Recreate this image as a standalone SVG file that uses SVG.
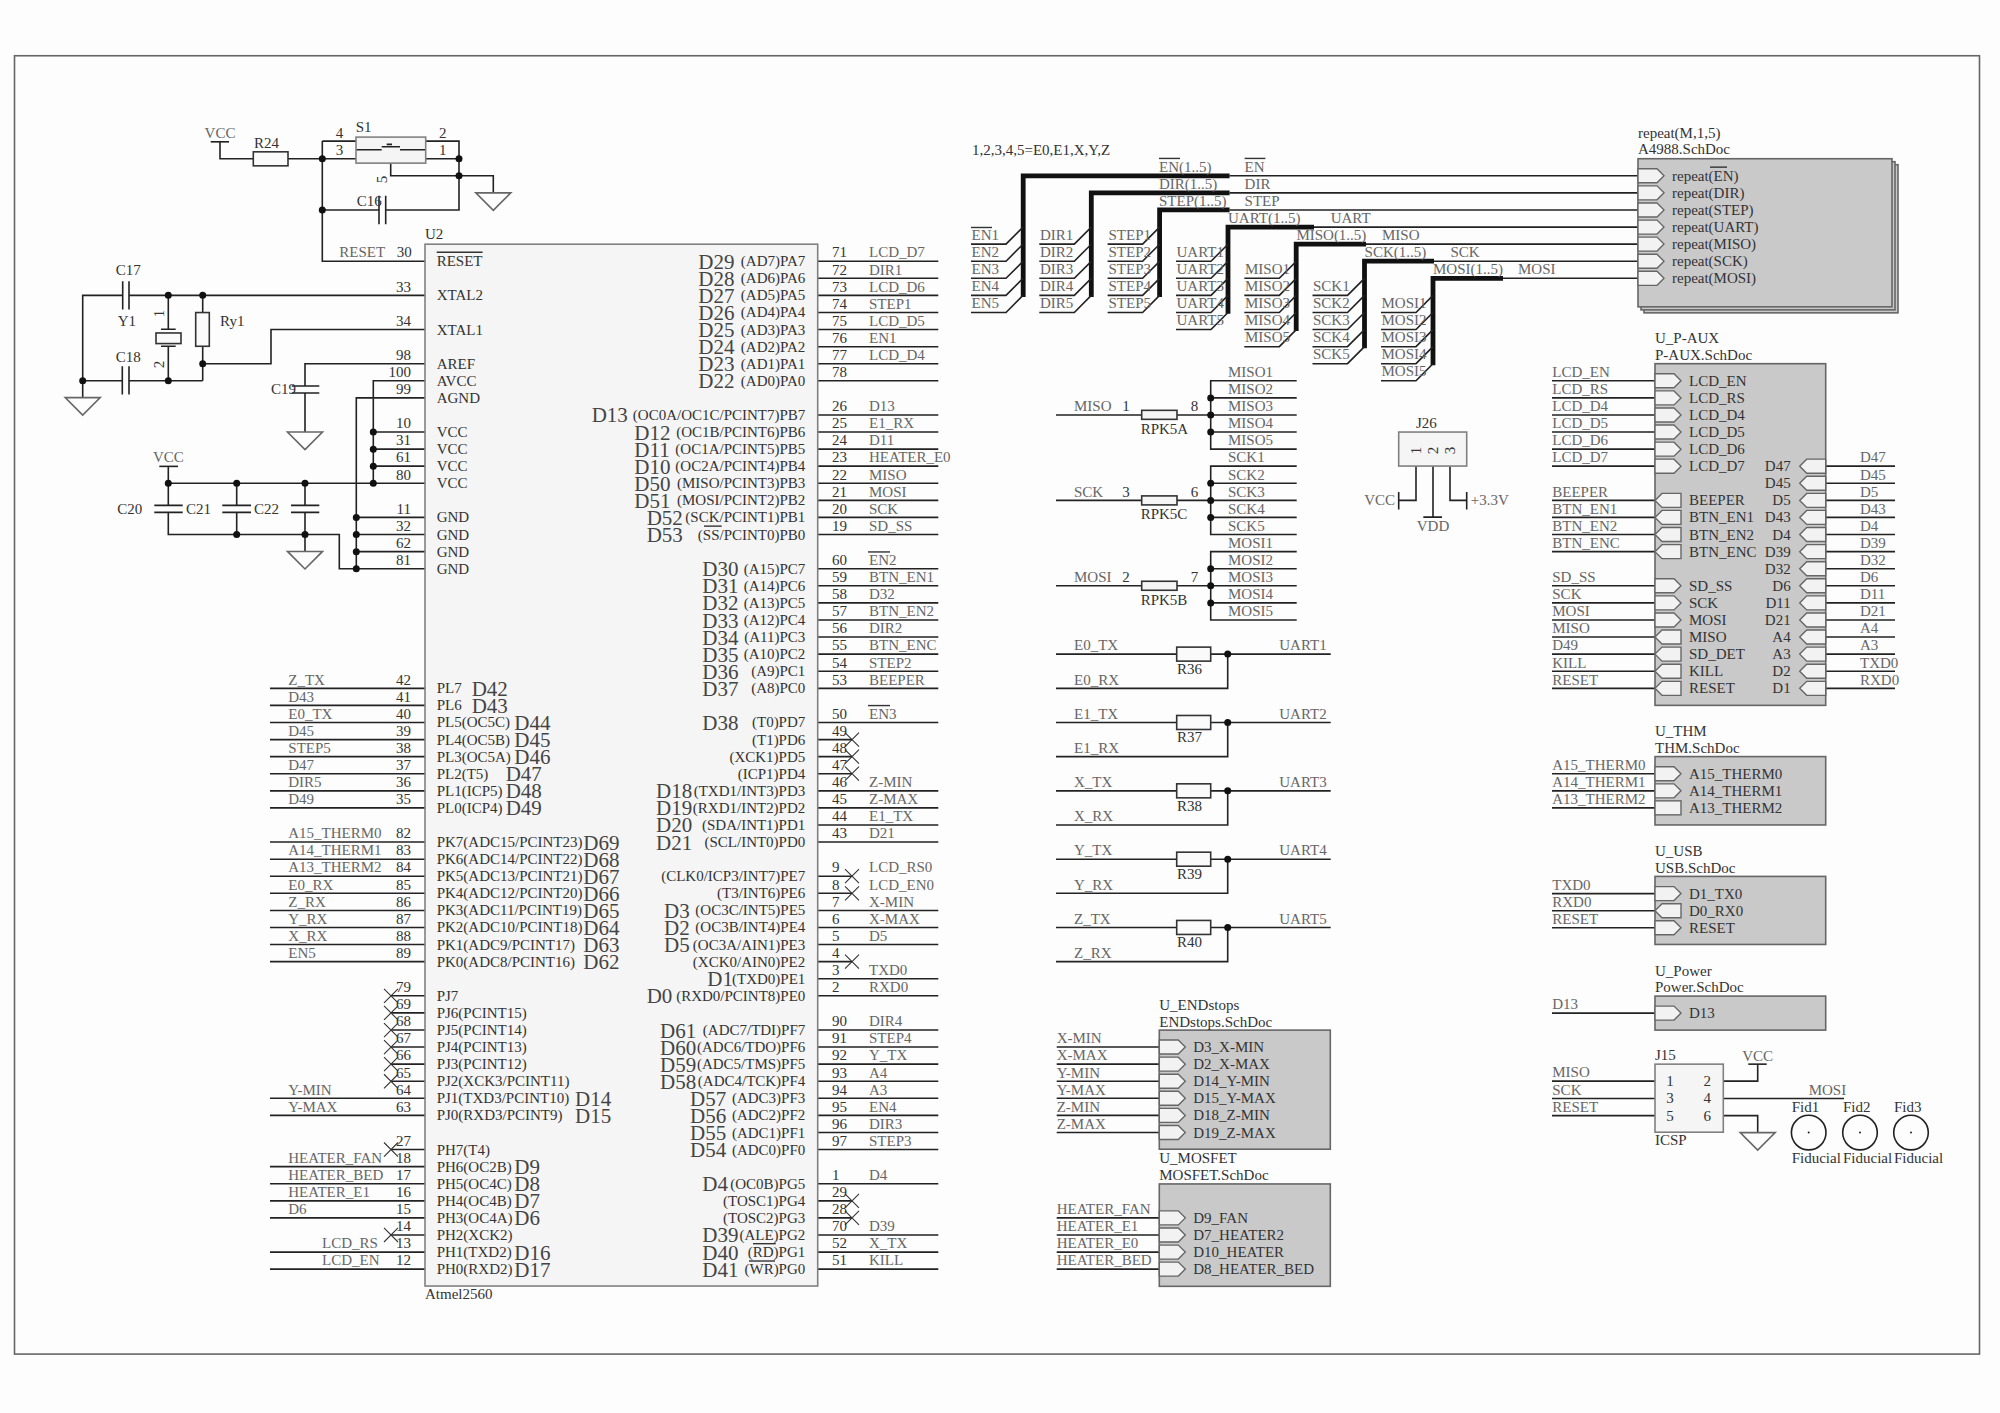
<svg xmlns="http://www.w3.org/2000/svg" width="2000" height="1413" viewBox="0 0 2000 1413">
<style>
text{font-family:"Liberation Serif","Times New Roman",serif;font-size:15px;fill:#333}
.n{fill:#666}
.D{font-size:21px;fill:#444}
.e{text-anchor:end}
.m{text-anchor:middle}
.w,.xx,.ov,.g{fill:none;stroke:#222;stroke-width:1.6}
.xx{stroke:#333;stroke-width:1.1}
.ov{stroke:#333;stroke-width:1.4}
.g{stroke:#666}
.b{fill:none;stroke:#111;stroke-width:4.8}
.j{fill:#111;r:3.5px}
.chip{fill:#f5f5f5;stroke:#808080;stroke-width:1.6}
.res{fill:#fafafa;stroke:#333;stroke-width:1.6}
.sh{fill:#c9c9c9;stroke:#666;stroke-width:1.6}
.port{fill:#f2f2f2;stroke:#666;stroke-width:1.4}
</style>
<defs>
<path id="pr" class="port" d="M0-7H19L26 0 19 7H0Z"/>
<path id="pl" class="port" d="M26-7H7L0 0 7 7H26Z"/>
<path id="gnd" class="g" d="M-17.5 0H17.5L0 17.5Z"/>
<path id="x" class="xx" d="M-7-7L7 7M7-7L-7 7"/>
<path id="ent" class="w" d="M0 0H35L52 -17"/>
</defs>
<rect width="2000" height="1413" fill="#fdfdfd"/>
<g id="sheet" transform="scale(1 1.0008)">
<rect x="14.5" y="55.7" width="1965" height="1297.3" fill="none" stroke="#666" stroke-width="1.6"/>
<text x="972" y="155">1,2,3,4,5=E0,E1,X,Y,Z</text>

<g id="connectors">
<path class="w" d="M220 141.7V158.6H253.3M288 158.6H356M322.3 141V261H425M322.3 141H356M425.7 141H459V209.8H385.7M322.3 209.8H379M425.7 158.6H459M390.7 163V175.6H493.3V192.7"/>
<path class="w" d="M82.7 397V295.1H122.7M129 295.1H425M168.3 295.1V329M168.3 346V380.5M202.7 295.1V380.5M82.7 380.5H122.3M129 380.5H202.7M202.7 363.4H271V329.3H425"/>
<path class="w" d="M425 363.4H305V385.7M305 392.7V431.7M425 380.5H373.3V482.9M425 397.6H356.3V568.3M373.3 431.7H425M373.3 448.8H425M373.3 465.8H425M168.3 466V505M168.3 482.9H425M236.7 482.9V505M305 482.9V505M168.3 512V534.1H339.3V568.3H425M236.7 512V534.1M305 512V551M356.3 517H425M356.3 534.1H425M356.3 551.2H425"/>
<path class="w" d="M270 687.8H425M270 704.8H425M270 721.9H425M270 739H425M270 756H425M270 773.1H425M270 790.2H425M270 807.2H425M270 841.4H425M270 858.5H425M270 875.5H425M270 892.6H425M270 909.7H425M270 926.7H425M270 943.8H425M270 960.9H425M391 995H425M391 1012.1H425M391 1029.2H425M391 1046.2H425M391 1063.3H425M391 1080.4H425M270 1097.4H425M270 1114.5H425M391 1148.6H425M270 1165.7H425M270 1182.8H425M270 1199.9H425M270 1216.9H425M391 1234H425M270 1251.1H425M270 1268.1H425"/>
<path class="w" d="M817.7 261H938.3M817.7 278.1H938.3M817.7 295.1H938.3M817.7 312.2H938.3M817.7 329.3H938.3M817.7 346.4H938.3M817.7 363.4H938.3M817.7 380.5H938.3M817.7 414.6H938.3M817.7 431.7H938.3M817.7 448.8H938.3M817.7 465.8H938.3M817.7 482.9H938.3M817.7 500H938.3M817.7 517H938.3M817.7 534.1H938.3M817.7 568.3H938.3M817.7 585.3H938.3M817.7 602.4H938.3M817.7 619.5H938.3M817.7 636.5H938.3M817.7 653.6H938.3M817.7 670.7H938.3M817.7 687.8H938.3M817.7 721.9H938.3M817.7 739H852M817.7 756H852M817.7 773.1H852M817.7 790.2H938.3M817.7 807.2H938.3M817.7 824.3H938.3M817.7 841.4H938.3M817.7 875.5H852M817.7 892.6H852M817.7 909.7H938.3M817.7 926.7H938.3M817.7 943.8H938.3M817.7 960.9H852M817.7 977.9H938.3M817.7 995H938.3M817.7 1029.2H938.3M817.7 1046.2H938.3M817.7 1063.3H938.3M817.7 1080.4H938.3M817.7 1097.4H938.3M817.7 1114.5H938.3M817.7 1131.6H938.3M817.7 1148.6H938.3M817.7 1182.8H938.3M817.7 1199.9H852M817.7 1216.9H852M817.7 1234H938.3M817.7 1251.1H938.3M817.7 1268.1H938.3"/>
<g>
<use href="#x" x="391" y="995"/><use href="#x" x="391" y="1012.1"/><use href="#x" x="391" y="1029.2"/><use href="#x" x="391" y="1046.2"/><use href="#x" x="391" y="1063.3"/><use href="#x" x="391" y="1080.4"/><use href="#x" x="391" y="1148.6"/><use href="#x" x="391" y="1234"/>
<use href="#x" x="852" y="739"/><use href="#x" x="852" y="756"/><use href="#x" x="852" y="773.1"/><use href="#x" x="852" y="875.5"/><use href="#x" x="852" y="892.6"/><use href="#x" x="852" y="960.9"/><use href="#x" x="852" y="1199.9"/><use href="#x" x="852" y="1216.9"/>
</g>
<path class="b" d="M1023.2 296.7V175.65H1229.6M1091.3 296.7V192.7H1229.6M1159.6 296.7V209.8H1229.6M1228 313.5V226.9H1314M1296.2 330.7V243.9H1366M1364.5 348V261H1434M1433 365V278.1H1503"/>
<path class="w" d="M1229.6 175.65H1638M1229.6 192.7H1638M1229.6 209.8H1638M1314 226.9H1638M1366 243.9H1638M1434 261H1638M1503 278.1H1638"/>
<g transform="translate(971 0)"><use href="#ent" y="243.9"/><use href="#ent" y="261"/><use href="#ent" y="278.1"/><use href="#ent" y="295.1"/><use href="#ent" y="312.2"/></g>
<g transform="translate(1039.3 0)"><use href="#ent" y="243.9"/><use href="#ent" y="261"/><use href="#ent" y="278.1"/><use href="#ent" y="295.1"/><use href="#ent" y="312.2"/></g>
<g transform="translate(1107.6 0)"><use href="#ent" y="243.9"/><use href="#ent" y="261"/><use href="#ent" y="278.1"/><use href="#ent" y="295.1"/><use href="#ent" y="312.2"/></g>
<g transform="translate(1176 0)"><use href="#ent" y="261"/><use href="#ent" y="278.1"/><use href="#ent" y="295.1"/><use href="#ent" y="312.2"/><use href="#ent" y="329.3"/></g>
<g transform="translate(1244.3 0)"><use href="#ent" y="278.1"/><use href="#ent" y="295.1"/><use href="#ent" y="312.2"/><use href="#ent" y="329.3"/><use href="#ent" y="346.4"/></g>
<g transform="translate(1312.5 0)"><use href="#ent" y="295.1"/><use href="#ent" y="312.2"/><use href="#ent" y="329.3"/><use href="#ent" y="346.4"/><use href="#ent" y="363.4"/></g>
<g transform="translate(1381 0)"><use href="#ent" y="312.2"/><use href="#ent" y="329.3"/><use href="#ent" y="346.4"/><use href="#ent" y="363.4"/><use href="#ent" y="380.5"/></g>
<path class="w" d="M1296.7 380.5H1210.7V448.8H1296.7M1210.7 397.6H1296.7M1210.7 414.6H1296.7M1210.7 431.7H1296.7M1056 414.6H1141.7M1177 414.6H1210.7"/>
<path class="w" d="M1296.7 465.8H1210.7V534.1H1296.7M1210.7 482.9H1296.7M1210.7 500H1296.7M1210.7 517H1296.7M1056 500H1141.7M1177 500H1210.7"/>
<path class="w" d="M1296.7 551.2H1210.7V619.5H1296.7M1210.7 568.3H1296.7M1210.7 585.3H1296.7M1210.7 602.4H1296.7M1056 585.3H1141.7M1177 585.3H1210.7"/>
<path class="w" d="M1056 653.6H1176.7M1210.7 653.6H1330.7M1227.7 653.6V687.8H1056M1056 721.9H1176.7M1210.7 721.9H1330.7M1227.7 721.9V756H1056M1056 790.2H1176.7M1210.7 790.2H1330.7M1227.7 790.2V824.3H1056M1056 858.5H1176.7M1210.7 858.5H1330.7M1227.7 858.5V892.6H1056M1056 926.7H1176.7M1210.7 926.7H1330.7M1227.7 926.7V960.9H1056"/>
<path class="w" d="M1416 465.7V500H1398.7M1433 465.7V516.7M1450 465.7V500H1466.7"/>
<path class="w" d="M1056.7 1046.2H1159.3M1056.7 1063.3H1159.3M1056.7 1080.4H1159.3M1056.7 1097.4H1159.3M1056.7 1114.5H1159.3M1056.7 1131.6H1159.3M1056.7 1216.9H1159.3M1056.7 1234H1159.3M1056.7 1251.1H1159.3M1056.7 1268.1H1159.3"/>
<path class="w" d="M1552 380.5H1655M1552 397.6H1655M1552 414.6H1655M1552 431.7H1655M1552 448.8H1655M1552 465.8H1655M1552 500H1655M1552 517H1655M1552 534.1H1655M1552 551.2H1655M1552 585.3H1655M1552 602.4H1655M1552 619.5H1655M1552 636.5H1655M1552 653.6H1655M1552 670.7H1655M1552 687.8H1655"/>
<path class="w" d="M1825.7 465.8H1895M1825.7 482.9H1895M1825.7 500H1895M1825.7 517H1895M1825.7 534.1H1895M1825.7 551.2H1895M1825.7 568.3H1895M1825.7 585.3H1895M1825.7 602.4H1895M1825.7 619.5H1895M1825.7 636.5H1895M1825.7 653.6H1895M1825.7 670.7H1895M1825.7 687.8H1895"/>
<path class="w" d="M1552 773.1H1655M1552 790.2H1655M1552 807.2H1655M1552 892.9H1655M1552 910H1655M1552 927H1655M1552 1012.3H1655M1552 1080.3H1655M1552 1097.6H1655M1552 1114.7H1655M1723.3 1080.3H1757.7V1063.3M1723.3 1097.6H1844M1723.3 1114.7H1757.7V1131.7"/>
<g>
<circle class="j" cx="322.3" cy="158.6"/><circle class="j" cx="459" cy="158.6"/><circle class="j" cx="459" cy="175.6"/><circle class="j" cx="322.3" cy="209.8"/>
<circle class="j" cx="168.3" cy="295.1"/><circle class="j" cx="202.7" cy="295.1"/><circle class="j" cx="202.7" cy="363.4"/><circle class="j" cx="82.7" cy="380.5"/><circle class="j" cx="168.3" cy="380.5"/>
<circle class="j" cx="373.3" cy="431.7"/><circle class="j" cx="373.3" cy="448.8"/><circle class="j" cx="373.3" cy="465.8"/><circle class="j" cx="373.3" cy="482.9"/><circle class="j" cx="168.3" cy="482.9"/><circle class="j" cx="236.7" cy="482.9"/><circle class="j" cx="305" cy="482.9"/><circle class="j" cx="236.7" cy="534.1"/><circle class="j" cx="305" cy="534.1"/><circle class="j" cx="356.3" cy="517"/><circle class="j" cx="356.3" cy="534.1"/><circle class="j" cx="356.3" cy="551.2"/><circle class="j" cx="356.3" cy="568.3"/>
<circle class="j" cx="1210.7" cy="397.6"/><circle class="j" cx="1210.7" cy="414.6"/><circle class="j" cx="1210.7" cy="431.7"/><circle class="j" cx="1210.7" cy="482.9"/><circle class="j" cx="1210.7" cy="500"/><circle class="j" cx="1210.7" cy="517"/><circle class="j" cx="1210.7" cy="568.3"/><circle class="j" cx="1210.7" cy="585.3"/><circle class="j" cx="1210.7" cy="602.4"/>
<circle class="j" cx="1227.7" cy="653.6"/><circle class="j" cx="1227.7" cy="721.9"/><circle class="j" cx="1227.7" cy="790.2"/><circle class="j" cx="1227.7" cy="858.5"/><circle class="j" cx="1227.7" cy="926.7"/>
</g>
</g>

<g id="net-labels">
<text class="n" x="339.3" y="256.7">RESET</text>
<text class="n" x="288.3" y="684.1">Z_TX</text><text class="n" x="288.3" y="701.1">D43</text><text class="n" x="288.3" y="718.2">E0_TX</text><text class="n" x="288.3" y="735.3">D45</text><text class="n" x="288.3" y="752.3">STEP5</text><text class="n" x="288.3" y="769.4">D47</text><text class="n" x="288.3" y="786.5">DIR5</text><text class="n" x="288.3" y="803.5">D49</text>
<text class="n" x="288.3" y="837.7">A15_THERM0</text><text class="n" x="288.3" y="854.8">A14_THERM1</text><text class="n" x="288.3" y="871.8">A13_THERM2</text><text class="n" x="288.3" y="888.9">E0_RX</text><text class="n" x="288.3" y="906">Z_RX</text><text class="n" x="288.3" y="923">Y_RX</text><text class="n" x="288.3" y="940.1">X_RX</text><text class="n" x="288.3" y="957.2">EN5</text>
<text class="n" x="288.3" y="1093.7">Y-MIN</text><text class="n" x="288.3" y="1110.8">Y-MAX</text>
<text class="n" x="288.3" y="1162">HEATER_FAN</text><text class="n" x="288.3" y="1179.1">HEATER_BED</text><text class="n" x="288.3" y="1196.2">HEATER_E1</text><text class="n" x="288.3" y="1213.2">D6</text><text class="n" x="322" y="1247.4">LCD_RS</text><text class="n" x="322" y="1264.4">LCD_EN</text>
<text class="n" x="869" y="257.3">LCD_D7</text><text class="n" x="869" y="274.4">DIR1</text><text class="n" x="869" y="291.4">LCD_D6</text><text class="n" x="869" y="308.5">STEP1</text><text class="n" x="869" y="325.6">LCD_D5</text><text class="n" x="869" y="342.7">EN1</text><text class="n" x="869" y="359.7">LCD_D4</text>
<text class="n" x="869" y="410.9">D13</text><text class="n" x="869" y="428">E1_RX</text><text class="n" x="869" y="445.1">D11</text><text class="n" x="869" y="462.1">HEATER_E0</text><text class="n" x="869" y="479.2">MISO</text><text class="n" x="869" y="496.3">MOSI</text><text class="n" x="869" y="513.3">SCK</text><text class="n" x="869" y="530.4">SD_SS</text>
<text class="n" x="869" y="564.6">EN2</text><path class="ov" d="M868 551.5H890"/><text class="n" x="869" y="581.6">BTN_EN1</text><text class="n" x="869" y="598.7">D32</text><text class="n" x="869" y="615.8">BTN_EN2</text><text class="n" x="869" y="632.8">DIR2</text><text class="n" x="869" y="649.9">BTN_ENC</text><text class="n" x="869" y="667">STEP2</text><text class="n" x="869" y="684.1">BEEPER</text>
<text class="n" x="869" y="718.2">EN3</text><path class="ov" d="M868 705H890"/><text class="n" x="869" y="786.5">Z-MIN</text><text class="n" x="869" y="803.5">Z-MAX</text><text class="n" x="869" y="820.6">E1_TX</text><text class="n" x="869" y="837.7">D21</text>
<text class="n" x="869" y="871.8">LCD_RS0</text><text class="n" x="869" y="888.9">LCD_EN0</text><text class="n" x="869" y="906">X-MIN</text><text class="n" x="869" y="923">X-MAX</text><text class="n" x="869" y="940.1">D5</text><text class="n" x="869" y="974.2">TXD0</text><text class="n" x="869" y="991.3">RXD0</text>
<text class="n" x="869" y="1025.5">DIR4</text><text class="n" x="869" y="1042.5">STEP4</text><text class="n" x="869" y="1059.6">Y_TX</text><text class="n" x="869" y="1076.7">A4</text><text class="n" x="869" y="1093.7">A3</text><text class="n" x="869" y="1110.8">EN4</text><text class="n" x="869" y="1127.9">DIR3</text><text class="n" x="869" y="1144.9">STEP3</text>
<text class="n" x="869" y="1179.1">D4</text><text class="n" x="869" y="1230.3">D39</text><text class="n" x="869" y="1247.4">X_TX</text><text class="n" x="869" y="1264.4">KILL</text>

<text class="n" x="971.5" y="240">EN1</text><path class="ov" d="M971 227.3H992"/><text class="n" x="971.5" y="257">EN2</text><text class="n" x="971.5" y="274">EN3</text><text class="n" x="971.5" y="291">EN4</text><text class="n" x="971.5" y="308">EN5</text>
<text class="n" x="1040" y="240">DIR1</text><text class="n" x="1040" y="257">DIR2</text><text class="n" x="1040" y="274">DIR3</text><text class="n" x="1040" y="291">DIR4</text><text class="n" x="1040" y="308">DIR5</text>
<text class="n" x="1108.5" y="240">STEP1</text><text class="n" x="1108.5" y="257">STEP2</text><text class="n" x="1108.5" y="274">STEP3</text><text class="n" x="1108.5" y="291">STEP4</text><text class="n" x="1108.5" y="308">STEP5</text>
<text class="n" x="1176.5" y="257">UART1</text><text class="n" x="1176.5" y="274">UART2</text><text class="n" x="1176.5" y="291">UART3</text><text class="n" x="1176.5" y="308">UART4</text><text class="n" x="1176.5" y="325">UART5</text>
<text class="n" x="1245" y="274">MISO1</text><text class="n" x="1245" y="291">MISO2</text><text class="n" x="1245" y="308">MISO3</text><text class="n" x="1245" y="325">MISO4</text><text class="n" x="1245" y="342">MISO5</text>
<text class="n" x="1313" y="291">SCK1</text><text class="n" x="1313" y="308">SCK2</text><text class="n" x="1313" y="325">SCK3</text><text class="n" x="1313" y="342">SCK4</text><text class="n" x="1313" y="359">SCK5</text>
<text class="n" x="1381.5" y="308">MOSI1</text><text class="n" x="1381.5" y="325">MOSI2</text><text class="n" x="1381.5" y="342">MOSI3</text><text class="n" x="1381.5" y="359">MOSI4</text><text class="n" x="1381.5" y="376">MOSI5</text>
<text class="n" x="1159" y="172">EN(1..5)</text><path class="ov" d="M1159 158.3H1180"/><text class="n" x="1159" y="189">DIR(1..5)</text><text class="n" x="1159" y="206">STEP(1..5)</text>
<text class="n" x="1228" y="223">UART(1..5)</text><text class="n" x="1296.4" y="240">MISO(1..5)</text><text class="n" x="1364.6" y="257">SCK(1..5)</text><text class="n" x="1433" y="274">MOSI(1..5)</text>
<text class="n" x="1244.6" y="172">EN</text><path class="ov" d="M1244.6 158.3H1265.4"/><text class="n" x="1244.6" y="189">DIR</text><text class="n" x="1244.6" y="206">STEP</text><text class="n" x="1330.7" y="223">UART</text><text class="n" x="1382" y="240">MISO</text><text class="n" x="1450.4" y="257">SCK</text><text class="n" x="1518" y="274">MOSI</text>

<text class="n" x="1228" y="376.8">MISO1</text><text class="n" x="1228" y="393.9">MISO2</text><text class="n" x="1228" y="410.9">MISO3</text><text class="n" x="1228" y="428">MISO4</text><text class="n" x="1228" y="445.1">MISO5</text>
<text class="n" x="1228" y="462.1">SCK1</text><text class="n" x="1228" y="479.2">SCK2</text><text class="n" x="1228" y="496.3">SCK3</text><text class="n" x="1228" y="513.3">SCK4</text><text class="n" x="1228" y="530.4">SCK5</text>
<text class="n" x="1228" y="547.5">MOSI1</text><text class="n" x="1228" y="564.6">MOSI2</text><text class="n" x="1228" y="581.6">MOSI3</text><text class="n" x="1228" y="598.7">MOSI4</text><text class="n" x="1228" y="615.8">MOSI5</text>
<text class="n" x="1074" y="410.9">MISO</text><text class="n" x="1074" y="496.3">SCK</text><text class="n" x="1074" y="581.6">MOSI</text>
<text class="n" x="1074" y="649.9">E0_TX</text><text class="n" x="1074" y="684.1">E0_RX</text><text class="n" x="1279.3" y="649.9">UART1</text>
<text class="n" x="1074" y="718.2">E1_TX</text><text class="n" x="1074" y="752.3">E1_RX</text><text class="n" x="1279.3" y="718.2">UART2</text>
<text class="n" x="1074" y="786.5">X_TX</text><text class="n" x="1074" y="820.6">X_RX</text><text class="n" x="1279.3" y="786.5">UART3</text>
<text class="n" x="1074" y="854.8">Y_TX</text><text class="n" x="1074" y="888.9">Y_RX</text><text class="n" x="1279.3" y="854.8">UART4</text>
<text class="n" x="1074" y="923">Z_TX</text><text class="n" x="1074" y="957.2">Z_RX</text><text class="n" x="1279.3" y="923">UART5</text>
<text class="n" x="1056.7" y="1042.5">X-MIN</text><text class="n" x="1056.7" y="1059.6">X-MAX</text><text class="n" x="1056.7" y="1076.7">Y-MIN</text><text class="n" x="1056.7" y="1093.7">Y-MAX</text><text class="n" x="1056.7" y="1110.8">Z-MIN</text><text class="n" x="1056.7" y="1127.9">Z-MAX</text>
<text class="n" x="1056.7" y="1213.2">HEATER_FAN</text><text class="n" x="1056.7" y="1230.3">HEATER_E1</text><text class="n" x="1056.7" y="1247.4">HEATER_E0</text><text class="n" x="1056.7" y="1264.4">HEATER_BED</text>
<text class="n" x="1552.3" y="376.8">LCD_EN</text><text class="n" x="1552.3" y="393.9">LCD_RS</text><text class="n" x="1552.3" y="410.9">LCD_D4</text><text class="n" x="1552.3" y="428">LCD_D5</text><text class="n" x="1552.3" y="445.1">LCD_D6</text><text class="n" x="1552.3" y="462.1">LCD_D7</text>
<text class="n" x="1552.3" y="496.3">BEEPER</text><text class="n" x="1552.3" y="513.3">BTN_EN1</text><text class="n" x="1552.3" y="530.4">BTN_EN2</text><text class="n" x="1552.3" y="547.5">BTN_ENC</text>
<text class="n" x="1552.3" y="581.6">SD_SS</text><text class="n" x="1552.3" y="598.7">SCK</text><text class="n" x="1552.3" y="615.8">MOSI</text><text class="n" x="1552.3" y="632.8">MISO</text><text class="n" x="1552.3" y="649.9">D49</text><text class="n" x="1552.3" y="667">KILL</text><text class="n" x="1552.3" y="684.1">RESET</text>
<text class="n" x="1860" y="462.1">D47</text><text class="n" x="1860" y="479.2">D45</text><text class="n" x="1860" y="496.3">D5</text><text class="n" x="1860" y="513.3">D43</text><text class="n" x="1860" y="530.4">D4</text><text class="n" x="1860" y="547.5">D39</text><text class="n" x="1860" y="564.6">D32</text><text class="n" x="1860" y="581.6">D6</text><text class="n" x="1860" y="598.7">D11</text><text class="n" x="1860" y="615.8">D21</text><text class="n" x="1860" y="632.8">A4</text><text class="n" x="1860" y="649.9">A3</text><text class="n" x="1860" y="667">TXD0</text><text class="n" x="1860" y="684.1">RXD0</text>
<text class="n" x="1552.3" y="769.4">A15_THERM0</text><text class="n" x="1552.3" y="786.5">A14_THERM1</text><text class="n" x="1552.3" y="803.5">A13_THERM2</text>
<text class="n" x="1552.3" y="889.2">TXD0</text><text class="n" x="1552.3" y="906.3">RXD0</text><text class="n" x="1552.3" y="923.3">RESET</text>
<text class="n" x="1552.3" y="1008.6">D13</text>
<text class="n" x="1552.3" y="1076.6">MISO</text><text class="n" x="1552.3" y="1093.9">SCK</text><text class="n" x="1552.3" y="1111">RESET</text>
<text class="n" x="1808.7" y="1094">MOSI</text>
</g>

<g id="VCC-1"><path class="w" d="M210.7 141.7H229"/><text class="n m" x="220" y="138.3">VCC</text></g>
<g id="VCC-2"><path class="w" d="M159.3 466H178"/><text class="n m" x="168.3" y="461.7">VCC</text></g>
<g id="GND-1"><use href="#gnd" x="493.3" y="192.7"/></g>
<g id="GND-2"><use href="#gnd" x="82.7" y="397.3"/></g>
<g id="GND-3"><use href="#gnd" x="305" y="431.7"/></g>
<g id="GND-4"><use href="#gnd" x="305" y="551"/></g>
<g id="R24"><rect class="res" x="253.3" y="151.7" width="34.7" height="14"/><text x="254" y="148.3">R24</text></g>
<g id="S1">
<rect class="chip" x="356" y="137" width="69.7" height="26"/>
<path class="w" d="M356.7 149.7H381.7M400 149.7H425M381.7 146.7H400M386.7 144.3H392"/>
<text x="355.7" y="131.7">S1</text><text x="335.7" y="137.7">4</text><text x="335.7" y="154.7">3</text><text x="439" y="137.7">2</text><text x="439" y="154.7">1</text>
<text x="0" y="0" transform="translate(387 183) rotate(-90)">5</text>
</g>
<g id="C16"><path class="w" d="M379 195.7V224M385.7 195.7V224"/><text x="356.7" y="206">C16</text></g>
<g id="C17"><path class="w" d="M122.7 281V309.3M129 281V309.3"/><text x="115.7" y="275">C17</text></g>
<g id="C18"><path class="w" d="M122.3 366V394.3M129 366V394.3"/><text x="115.7" y="361.7">C18</text></g>
<g id="C19"><path class="w" d="M291.7 385.7H319.3M291.7 392.7H319.3"/><text x="271" y="394">C19</text></g>
<g id="C20"><path class="w" d="M154.3 505H182.7M154.3 512H182.7"/><text x="117.3" y="514">C20</text></g>
<g id="C21"><path class="w" d="M222.3 505H251M222.3 512H251"/><text x="186" y="514">C21</text></g>
<g id="C22"><path class="w" d="M291 505H319.3M291 512H319.3"/><text x="254" y="514">C22</text></g>
<g id="Y1"><path class="w" d="M161 329H175.7M161 346H175.7"/><rect class="res" x="156" y="332.7" width="25" height="10.6"/><text x="117.7" y="326">Y1</text>
<text transform="translate(164 317) rotate(-90)">1</text><text transform="translate(164 368) rotate(-90)">2</text></g>
<g id="Ry1"><rect class="res" x="195.7" y="312.3" width="13.6" height="33.7"/><text x="220" y="326">Ry1</text></g>

<g id="U2">
<rect class="chip" x="425" y="244" width="392.7" height="1041"/>
<text x="425" y="239">U2</text><text x="425" y="1298.3">Atmel2560</text>
<text x="436.7" y="266">RESET</text><path class="ov" d="M436.7 252H482.6"/><text x="396.7" y="256.7">30</text>
<text x="436.7" y="300.1">XTAL2</text><text class="e" x="411" y="291.4">33</text>
<text x="436.7" y="334.3">XTAL1</text><text class="e" x="411" y="325.6">34</text>
<text x="436.7" y="368.4">AREF</text><text class="e" x="411" y="359.7">98</text>
<text x="436.7" y="385.5">AVCC</text><text class="e" x="411" y="376.8">100</text>
<text x="436.7" y="402.6">AGND</text><text class="e" x="411" y="393.9">99</text>
<text x="436.7" y="436.7">VCC</text><text class="e" x="411" y="428">10</text>
<text x="436.7" y="453.8">VCC</text><text class="e" x="411" y="445.1">31</text>
<text x="436.7" y="470.8">VCC</text><text class="e" x="411" y="462.1">61</text>
<text x="436.7" y="487.9">VCC</text><text class="e" x="411" y="479.2">80</text>
<text x="436.7" y="522">GND</text><text class="e" x="411" y="513.3">11</text>
<text x="436.7" y="539.1">GND</text><text class="e" x="411" y="530.4">32</text>
<text x="436.7" y="556.2">GND</text><text class="e" x="411" y="547.5">62</text>
<text x="436.7" y="573.3">GND</text><text class="e" x="411" y="564.6">81</text>

<text x="436.7" y="692.8">PL7</text><text class="e" x="411" y="684.1">42</text><text class="D" x="471.7" y="695.3">D42</text>
<text x="436.7" y="709.8">PL6</text><text class="e" x="411" y="701.1">41</text><text class="D" x="471.7" y="712.3">D43</text>
<text x="436.7" y="726.9">PL5(OC5C)</text><text class="e" x="411" y="718.2">40</text><text class="D" x="514.3" y="729.4">D44</text>
<text x="436.7" y="744">PL4(OC5B)</text><text class="e" x="411" y="735.3">39</text><text class="D" x="514.3" y="746.5">D45</text>
<text x="436.7" y="761">PL3(OC5A)</text><text class="e" x="411" y="752.3">38</text><text class="D" x="514.3" y="763.5">D46</text>
<text x="436.7" y="778.1">PL2(T5)</text><text class="e" x="411" y="769.4">37</text><text class="D" x="505.7" y="780.6">D47</text>
<text x="436.7" y="795.2">PL1(ICP5)</text><text class="e" x="411" y="786.5">36</text><text class="D" x="505.7" y="797.7">D48</text>
<text x="436.7" y="812.2">PL0(ICP4)</text><text class="e" x="411" y="803.5">35</text><text class="D" x="505.7" y="814.7">D49</text>

<text x="436.7" y="846.4">PK7(ADC15/PCINT23)</text><text class="e" x="411" y="837.7">82</text><text class="D" x="583.3" y="848.9">D69</text>
<text x="436.7" y="863.5">PK6(ADC14/PCINT22)</text><text class="e" x="411" y="854.8">83</text><text class="D" x="583.3" y="866">D68</text>
<text x="436.7" y="880.5">PK5(ADC13/PCINT21)</text><text class="e" x="411" y="871.8">84</text><text class="D" x="583.3" y="883">D67</text>
<text x="436.7" y="897.6">PK4(ADC12/PCINT20)</text><text class="e" x="411" y="888.9">85</text><text class="D" x="583.3" y="900.1">D66</text>
<text x="436.7" y="914.7">PK3(ADC11/PCINT19)</text><text class="e" x="411" y="906">86</text><text class="D" x="583.3" y="917.2">D65</text>
<text x="436.7" y="931.7">PK2(ADC10/PCINT18)</text><text class="e" x="411" y="923">87</text><text class="D" x="583.3" y="934.2">D64</text>
<text x="436.7" y="948.8">PK1(ADC9/PCINT17)</text><text class="e" x="411" y="940.1">88</text><text class="D" x="583.3" y="951.3">D63</text>
<text x="436.7" y="965.9">PK0(ADC8/PCINT16)</text><text class="e" x="411" y="957.2">89</text><text class="D" x="583.3" y="968.4">D62</text>

<text x="436.7" y="1000">PJ7</text><text class="e" x="411" y="991.3">79</text>
<text x="436.7" y="1017.1">PJ6(PCINT15)</text><text class="e" x="411" y="1008.4">69</text>
<text x="436.7" y="1034.2">PJ5(PCINT14)</text><text class="e" x="411" y="1025.5">68</text>
<text x="436.7" y="1051.2">PJ4(PCINT13)</text><text class="e" x="411" y="1042.5">67</text>
<text x="436.7" y="1068.3">PJ3(PCINT12)</text><text class="e" x="411" y="1059.6">66</text>
<text x="436.7" y="1085.4">PJ2(XCK3/PCINT11)</text><text class="e" x="411" y="1076.7">65</text>
<text x="436.7" y="1102.4">PJ1(TXD3/PCINT10)</text><text class="e" x="411" y="1093.7">64</text><text class="D" x="575" y="1104.9">D14</text>
<text x="436.7" y="1119.5">PJ0(RXD3/PCINT9)</text><text class="e" x="411" y="1110.8">63</text><text class="D" x="575" y="1122">D15</text>

<text x="436.7" y="1153.6">PH7(T4)</text><text class="e" x="411" y="1144.9">27</text>
<text x="436.7" y="1170.7">PH6(OC2B)</text><text class="e" x="411" y="1162">18</text><text class="D" x="514.3" y="1173.2">D9</text>
<text x="436.7" y="1187.8">PH5(OC4C)</text><text class="e" x="411" y="1179.1">17</text><text class="D" x="514.3" y="1190.3">D8</text>
<text x="436.7" y="1204.9">PH4(OC4B)</text><text class="e" x="411" y="1196.2">16</text><text class="D" x="514.3" y="1207.4">D7</text>
<text x="436.7" y="1221.9">PH3(OC4A)</text><text class="e" x="411" y="1213.2">15</text><text class="D" x="514.3" y="1224.4">D6</text>
<text x="436.7" y="1239">PH2(XCK2)</text><text class="e" x="411" y="1230.3">14</text>
<text x="436.7" y="1256.1">PH1(TXD2)</text><text class="e" x="411" y="1247.4">13</text><text class="D" x="514.3" y="1258.6">D16</text>
<text x="436.7" y="1273.1">PH0(RXD2)</text><text class="e" x="411" y="1264.4">12</text><text class="D" x="514.3" y="1275.6">D17</text>

<text class="e" x="805.3" y="266">(AD7)PA7</text><text x="832" y="257.3">71</text><text class="D" x="698.3" y="268.5">D29</text>
<text class="e" x="805.3" y="283.1">(AD6)PA6</text><text x="832" y="274.4">72</text><text class="D" x="698.3" y="285.6">D28</text>
<text class="e" x="805.3" y="300.1">(AD5)PA5</text><text x="832" y="291.4">73</text><text class="D" x="698.3" y="302.6">D27</text>
<text class="e" x="805.3" y="317.2">(AD4)PA4</text><text x="832" y="308.5">74</text><text class="D" x="698.3" y="319.7">D26</text>
<text class="e" x="805.3" y="334.3">(AD3)PA3</text><text x="832" y="325.6">75</text><text class="D" x="698.3" y="336.8">D25</text>
<text class="e" x="805.3" y="351.4">(AD2)PA2</text><text x="832" y="342.7">76</text><text class="D" x="698.3" y="353.9">D24</text>
<text class="e" x="805.3" y="368.4">(AD1)PA1</text><text x="832" y="359.7">77</text><text class="D" x="698.3" y="370.9">D23</text>
<text class="e" x="805.3" y="385.5">(AD0)PA0</text><text x="832" y="376.8">78</text><text class="D" x="698.3" y="388">D22</text>

<text class="e" x="805.3" y="419.6">(OC0A/OC1C/PCINT7)PB7</text><text x="832" y="410.9">26</text><text class="D" x="591.7" y="422.1">D13</text>
<text class="e" x="805.3" y="436.7">(OC1B/PCINT6)PB6</text><text x="832" y="428">25</text><text class="D" x="634.3" y="439.2">D12</text>
<text class="e" x="805.3" y="453.8">(OC1A/PCINT5)PB5</text><text x="832" y="445.1">24</text><text class="D" x="634.3" y="456.3">D11</text>
<text class="e" x="805.3" y="470.8">(OC2A/PCINT4)PB4</text><text x="832" y="462.1">23</text><text class="D" x="634.3" y="473.3">D10</text>
<text class="e" x="805.3" y="487.9">(MISO/PCINT3)PB3</text><text x="832" y="479.2">22</text><text class="D" x="634.3" y="490.4">D50</text>
<text class="e" x="805.3" y="505">(MOSI/PCINT2)PB2</text><text x="832" y="496.3">21</text><text class="D" x="634.3" y="507.5">D51</text>
<text class="e" x="805.3" y="522">(SCK/PCINT1)PB1</text><text x="832" y="513.3">20</text><text class="D" x="646.7" y="524.5">D52</text>
<text class="e" x="805.3" y="539.1">(SS/PCINT0)PB0</text><text x="832" y="530.4">19</text><text class="D" x="646.7" y="541.6">D53</text><path class="ov" d="M704 525.7H721.7"/>

<text class="e" x="805.3" y="573.3">(A15)PC7</text><text x="832" y="564.6">60</text><text class="D" x="702.3" y="575.8">D30</text>
<text class="e" x="805.3" y="590.3">(A14)PC6</text><text x="832" y="581.6">59</text><text class="D" x="702.3" y="592.8">D31</text>
<text class="e" x="805.3" y="607.4">(A13)PC5</text><text x="832" y="598.7">58</text><text class="D" x="702.3" y="609.9">D32</text>
<text class="e" x="805.3" y="624.5">(A12)PC4</text><text x="832" y="615.8">57</text><text class="D" x="702.3" y="627">D33</text>
<text class="e" x="805.3" y="641.5">(A11)PC3</text><text x="832" y="632.8">56</text><text class="D" x="702.3" y="644">D34</text>
<text class="e" x="805.3" y="658.6">(A10)PC2</text><text x="832" y="649.9">55</text><text class="D" x="702.3" y="661.1">D35</text>
<text class="e" x="805.3" y="675.7">(A9)PC1</text><text x="832" y="667">54</text><text class="D" x="702.3" y="678.2">D36</text>
<text class="e" x="805.3" y="692.8">(A8)PC0</text><text x="832" y="684.1">53</text><text class="D" x="702.3" y="695.3">D37</text>

<text class="e" x="805.3" y="726.9">(T0)PD7</text><text x="832" y="718.2">50</text><text class="D" x="702.3" y="729.4">D38</text>
<text class="e" x="805.3" y="744">(T1)PD6</text><text x="832" y="735.3">49</text>
<text class="e" x="805.3" y="761">(XCK1)PD5</text><text x="832" y="752.3">48</text>
<text class="e" x="805.3" y="778.1">(ICP1)PD4</text><text x="832" y="769.4">47</text>
<text class="e" x="805.3" y="795.2">(TXD1/INT3)PD3</text><text x="832" y="786.5">46</text><text class="D" x="656" y="797.7">D18</text>
<text class="e" x="805.3" y="812.2">(RXD1/INT2)PD2</text><text x="832" y="803.5">45</text><text class="D" x="656" y="814.7">D19</text>
<text class="e" x="805.3" y="829.3">(SDA/INT1)PD1</text><text x="832" y="820.6">44</text><text class="D" x="656" y="831.8">D20</text>
<text class="e" x="805.3" y="846.4">(SCL/INT0)PD0</text><text x="832" y="837.7">43</text><text class="D" x="656" y="848.9">D21</text>

<text class="e" x="805.3" y="880.5">(CLK0/ICP3/INT7)PE7</text><text x="832" y="871.8">9</text>
<text class="e" x="805.3" y="897.6">(T3/INT6)PE6</text><text x="832" y="888.9">8</text>
<text class="e" x="805.3" y="914.7">(OC3C/INT5)PE5</text><text x="832" y="906">7</text><text class="D" x="664" y="917.2">D3</text>
<text class="e" x="805.3" y="931.7">(OC3B/INT4)PE4</text><text x="832" y="923">6</text><text class="D" x="664" y="934.2">D2</text>
<text class="e" x="805.3" y="948.8">(OC3A/AIN1)PE3</text><text x="832" y="940.1">5</text><text class="D" x="664" y="951.3">D5</text>
<text class="e" x="805.3" y="965.9">(XCK0/AIN0)PE2</text><text x="832" y="957.2">4</text>
<text class="e" x="805.3" y="982.9">(TXD0)PE1</text><text x="832" y="974.2">3</text><text class="D" x="707.3" y="985.4">D1</text>
<text class="e" x="805.3" y="1000">(RXD0/PCINT8)PE0</text><text x="832" y="991.3">2</text><text class="D" x="646.7" y="1002.5">D0</text>

<text class="e" x="805.3" y="1034.2">(ADC7/TDI)PF7</text><text x="832" y="1025.5">90</text><text class="D" x="660" y="1036.7">D61</text>
<text class="e" x="805.3" y="1051.2">(ADC6/TDO)PF6</text><text x="832" y="1042.5">91</text><text class="D" x="660" y="1053.7">D60</text>
<text class="e" x="805.3" y="1068.3">(ADC5/TMS)PF5</text><text x="832" y="1059.6">92</text><text class="D" x="660" y="1070.8">D59</text>
<text class="e" x="805.3" y="1085.4">(ADC4/TCK)PF4</text><text x="832" y="1076.7">93</text><text class="D" x="660" y="1087.9">D58</text>
<text class="e" x="805.3" y="1102.4">(ADC3)PF3</text><text x="832" y="1093.7">94</text><text class="D" x="690" y="1104.9">D57</text>
<text class="e" x="805.3" y="1119.5">(ADC2)PF2</text><text x="832" y="1110.8">95</text><text class="D" x="690" y="1122">D56</text>
<text class="e" x="805.3" y="1136.6">(ADC1)PF1</text><text x="832" y="1127.9">96</text><text class="D" x="690" y="1139.1">D55</text>
<text class="e" x="805.3" y="1153.6">(ADC0)PF0</text><text x="832" y="1144.9">97</text><text class="D" x="690" y="1156.1">D54</text>

<text class="e" x="805.3" y="1187.8">(OC0B)PG5</text><text x="832" y="1179.1">1</text><text class="D" x="702.3" y="1190.3">D4</text>
<text class="e" x="805.3" y="1204.9">(TOSC1)PG4</text><text x="832" y="1196.2">29</text>
<text class="e" x="805.3" y="1221.9">(TOSC2)PG3</text><text x="832" y="1213.2">28</text>
<text class="e" x="805.3" y="1239">(ALE)PG2</text><text x="832" y="1230.3">70</text><text class="D" x="702.3" y="1241.5">D39</text>
<text class="e" x="805.3" y="1256.1">(RD)PG1</text><text x="832" y="1247.4">52</text><text class="D" x="702.3" y="1258.6">D40</text><path class="ov" d="M753 1242.7H775.7"/>
<text class="e" x="805.3" y="1273.1">(WR)PG0</text><text x="832" y="1264.4">51</text><text class="D" x="702.3" y="1275.6">D41</text><path class="ov" d="M749 1260H775"/>
</g>

<g id="RPK5A"><rect class="chip" x="1141.7" y="410" width="35.3" height="9" style="stroke:#333"/><text x="1122.3" y="410.9">1</text><text x="1190.7" y="410.9">8</text><text x="1140.7" y="433.3">RPK5A</text></g>
<g id="RPK5C"><rect class="chip" x="1141.7" y="495.5" width="35.3" height="9" style="stroke:#333"/><text x="1122.3" y="496.3">3</text><text x="1190.7" y="496.3">6</text><text x="1140.7" y="518.3">RPK5C</text></g>
<g id="RPK5B"><rect class="chip" x="1141.7" y="580.8" width="35.3" height="9" style="stroke:#333"/><text x="1122.3" y="581.6">2</text><text x="1190.7" y="581.6">7</text><text x="1140.7" y="604.3">RPK5B</text></g>
<g id="R36"><rect class="res" x="1176.7" y="646.6" width="34" height="14"/><text x="1177" y="673.3">R36</text></g>
<g id="R37"><rect class="res" x="1176.7" y="714.9" width="34" height="14"/><text x="1177" y="741.6">R37</text></g>
<g id="R38"><rect class="res" x="1176.7" y="783.2" width="34" height="14"/><text x="1177" y="809.9">R38</text></g>
<g id="R39"><rect class="res" x="1176.7" y="851.5" width="34" height="14"/><text x="1177" y="878.2">R39</text></g>
<g id="R40"><rect class="res" x="1176.7" y="919.7" width="34" height="14"/><text x="1177" y="946.4">R40</text></g>

<g id="J26">
<rect class="chip" x="1398.7" y="431.7" width="68" height="34"/>
<text x="1416" y="427.7">J26</text>
<text transform="translate(1421 454) rotate(-90)">1</text><text transform="translate(1438 454) rotate(-90)">2</text><text transform="translate(1455 454) rotate(-90)">3</text>
<path class="w" d="M1398.7 491.7V509M1423.3 516.7H1442M1466.7 491.7V509"/>
<text class="n e" x="1395" y="504.3">VCC</text><text class="n m" x="1433" y="530.7">VDD</text><text class="n" x="1470.7" y="504.3">+3.3V</text>
</g>

<g id="U_A4988">
<rect class="sh" x="1644" y="164.6" width="254" height="148"/>
<rect class="sh" x="1641" y="161.6" width="254" height="148"/>
<rect class="sh" x="1638" y="158.6" width="254" height="148"/>
<text x="1638" y="137.7">repeat(M,1,5)</text><text x="1638" y="154">A4988.SchDoc</text>
<use href="#pr" x="1638" y="175.65"/><use href="#pr" x="1638" y="192.7"/><use href="#pr" x="1638" y="209.8"/><use href="#pr" x="1638" y="226.9"/><use href="#pr" x="1638" y="243.9"/><use href="#pr" x="1638" y="261"/><use href="#pr" x="1638" y="278.1"/>
<text x="1672" y="180.6">repeat(EN)</text><path class="ov" d="M1710 167H1727"/><text x="1672" y="197.7">repeat(DIR)</text><text x="1672" y="214.8">repeat(STEP)</text><text x="1672" y="231.9">repeat(UART)</text><text x="1672" y="248.9">repeat(MISO)</text><text x="1672" y="266">repeat(SCK)</text><text x="1672" y="283.1">repeat(MOSI)</text>
</g>

<g id="U_P-AUX">
<rect class="sh" x="1655" y="363.4" width="170.7" height="341.4"/>
<text x="1655" y="342.7">U_P-AUX</text><text x="1655" y="360">P-AUX.SchDoc</text>
<use href="#pr" x="1655" y="380.5"/><use href="#pr" x="1655" y="397.6"/><use href="#pr" x="1655" y="414.6"/><use href="#pr" x="1655" y="431.7"/><use href="#pr" x="1655" y="448.8"/><use href="#pr" x="1655" y="465.8"/>
<use href="#pl" x="1655" y="500"/><use href="#pl" x="1655" y="517"/><use href="#pl" x="1655" y="534.1"/><use href="#pl" x="1655" y="551.2"/>
<use href="#pr" x="1655" y="585.3"/><use href="#pr" x="1655" y="602.4"/><use href="#pr" x="1655" y="619.5"/>
<use href="#pl" x="1655" y="636.5"/><use href="#pl" x="1655" y="653.6"/><use href="#pl" x="1655" y="670.7"/><use href="#pl" x="1655" y="687.8"/>
<use href="#pl" x="1799.7" y="465.8"/><use href="#pl" x="1799.7" y="482.9"/><use href="#pl" x="1799.7" y="500"/><use href="#pl" x="1799.7" y="517"/><use href="#pl" x="1799.7" y="534.1"/><use href="#pl" x="1799.7" y="551.2"/><use href="#pl" x="1799.7" y="568.3"/><use href="#pl" x="1799.7" y="585.3"/><use href="#pl" x="1799.7" y="602.4"/><use href="#pl" x="1799.7" y="619.5"/><use href="#pl" x="1799.7" y="636.5"/><use href="#pl" x="1799.7" y="653.6"/><use href="#pl" x="1799.7" y="670.7"/><use href="#pl" x="1799.7" y="687.8"/>
<text x="1689" y="385.5">LCD_EN</text><text x="1689" y="402.6">LCD_RS</text><text x="1689" y="419.6">LCD_D4</text><text x="1689" y="436.7">LCD_D5</text><text x="1689" y="453.8">LCD_D6</text><text x="1689" y="470.8">LCD_D7</text>
<text x="1689" y="505">BEEPER</text><text x="1689" y="522">BTN_EN1</text><text x="1689" y="539.1">BTN_EN2</text><text x="1689" y="556.2">BTN_ENC</text>
<text x="1689" y="590.3">SD_SS</text><text x="1689" y="607.4">SCK</text><text x="1689" y="624.5">MOSI</text><text x="1689" y="641.5">MISO</text><text x="1689" y="658.6">SD_DET</text><text x="1689" y="675.7">KILL</text><text x="1689" y="692.8">RESET</text>
<text class="e" x="1790.7" y="470.8">D47</text><text class="e" x="1790.7" y="487.9">D45</text><text class="e" x="1790.7" y="505">D5</text><text class="e" x="1790.7" y="522">D43</text><text class="e" x="1790.7" y="539.1">D4</text><text class="e" x="1790.7" y="556.2">D39</text><text class="e" x="1790.7" y="573.3">D32</text><text class="e" x="1790.7" y="590.3">D6</text><text class="e" x="1790.7" y="607.4">D11</text><text class="e" x="1790.7" y="624.5">D21</text><text class="e" x="1790.7" y="641.5">A4</text><text class="e" x="1790.7" y="658.6">A3</text><text class="e" x="1790.7" y="675.7">D2</text><text class="e" x="1790.7" y="692.8">D1</text>
</g>

<g id="U_THM">
<rect class="sh" x="1655" y="756" width="170.7" height="68.3"/>
<text x="1655" y="735.6">U_THM</text><text x="1655" y="752.7">THM.SchDoc</text>
<use href="#pr" x="1655" y="773.1"/><use href="#pr" x="1655" y="790.2"/><rect class="port" x="1655" y="800.2" width="26" height="14"/>
<text x="1689" y="778.1">A15_THERM0</text><text x="1689" y="795.2">A14_THERM1</text><text x="1689" y="812.2">A13_THERM2</text>
</g>
<g id="U_USB">
<rect class="sh" x="1655" y="875.7" width="170.7" height="68"/>
<text x="1655" y="855">U_USB</text><text x="1655" y="872">USB.SchDoc</text>
<use href="#pr" x="1655" y="892.9"/><use href="#pl" x="1655" y="910"/><use href="#pr" x="1655" y="927"/>
<text x="1689" y="897.9">D1_TX0</text><text x="1689" y="915">D0_RX0</text><text x="1689" y="932">RESET</text>
</g>
<g id="U_Power">
<rect class="sh" x="1655" y="995.3" width="170.7" height="34"/>
<text x="1655" y="975">U_Power</text><text x="1655" y="991.7">Power.SchDoc</text>
<use href="#pr" x="1655" y="1012.3"/><text x="1689" y="1017.3">D13</text>
</g>
<g id="J15">
<rect class="chip" x="1655" y="1063.3" width="68.3" height="68"/>
<text x="1655" y="1059.3">J15</text><text x="1655" y="1144.3">ICSP</text>
<text class="m" x="1670" y="1085.3">1</text><text class="m" x="1670" y="1102.6">3</text><text class="m" x="1670" y="1119.7">5</text><text class="m" x="1707.3" y="1085.3">2</text><text class="m" x="1707.3" y="1102.6">4</text><text class="m" x="1707.3" y="1119.7">6</text>
<path class="w" d="M1748.3 1063.3H1766.7"/><text class="n m" x="1757.7" y="1060">VCC</text>
<use href="#gnd" x="1757.7" y="1131.7"/>
</g>
<g id="Fid1"><circle cx="1808.7" cy="1131.7" r="17.3" fill="none" stroke="#222" stroke-width="1.6"/><circle cx="1808.7" cy="1131.7" r="1" fill="#222"/><text x="1791.7" y="1110.7">Fid1</text><text x="1791.7" y="1161.7">Fiducial</text></g>
<g id="Fid2"><circle cx="1860" cy="1131.7" r="17.3" fill="none" stroke="#222" stroke-width="1.6"/><circle cx="1860" cy="1131.7" r="1" fill="#222"/><text x="1843" y="1110.7">Fid2</text><text x="1843" y="1161.7">Fiducial</text></g>
<g id="Fid3"><circle cx="1911" cy="1131.7" r="17.3" fill="none" stroke="#222" stroke-width="1.6"/><circle cx="1911" cy="1131.7" r="1" fill="#222"/><text x="1894" y="1110.7">Fid3</text><text x="1894" y="1161.7">Fiducial</text></g>

<g id="U_ENDstops">
<rect class="sh" x="1159.3" y="1029.3" width="171" height="119"/>
<text x="1159.3" y="1009">U_ENDstops</text><text x="1159.3" y="1026">ENDstops.SchDoc</text>
<use href="#pr" x="1159.3" y="1046.2"/><use href="#pr" x="1159.3" y="1063.3"/><use href="#pr" x="1159.3" y="1080.4"/><use href="#pr" x="1159.3" y="1097.4"/><use href="#pr" x="1159.3" y="1114.5"/><use href="#pr" x="1159.3" y="1131.6"/>
<text x="1193.3" y="1051.2">D3_X-MIN</text><text x="1193.3" y="1068.3">D2_X-MAX</text><text x="1193.3" y="1085.4">D14_Y-MIN</text><text x="1193.3" y="1102.4">D15_Y-MAX</text><text x="1193.3" y="1119.5">D18_Z-MIN</text><text x="1193.3" y="1136.6">D19_Z-MAX</text>
</g>
<g id="U_MOSFET">
<rect class="sh" x="1159.3" y="1183" width="171" height="102.3"/>
<text x="1159.3" y="1161.7">U_MOSFET</text><text x="1159.3" y="1179">MOSFET.SchDoc</text>
<use href="#pr" x="1159.3" y="1216.9"/><use href="#pr" x="1159.3" y="1234"/><use href="#pr" x="1159.3" y="1251.1"/><use href="#pr" x="1159.3" y="1268.1"/>
<text x="1193.3" y="1221.9">D9_FAN</text><text x="1193.3" y="1239">D7_HEATER2</text><text x="1193.3" y="1256.1">D10_HEATER</text><text x="1193.3" y="1273.1">D8_HEATER_BED</text>
</g>
</g>
</svg>
